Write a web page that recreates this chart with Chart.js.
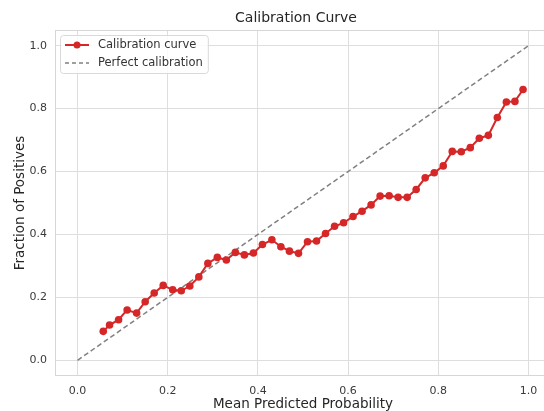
<!DOCTYPE html>
<html lang="en">
<head>
<meta charset="UTF-8">
<title>Calibration Curve</title>
<script src="https://cdn.jsdelivr.net/npm/chart.js"></script>
<style>
  html, body { margin: 0; padding: 0; overflow: hidden; background: #fff; }
  canvas { display: block; }
</style>
</head>
<body>
<canvas id="myChart" width="556" height="414"></canvas>
<script>
// mean predicted probability per bin (x) and fraction of positives (y)
const meanPredicted = [
  0.057, 0.071, 0.091, 0.110, 0.131, 0.150, 0.170, 0.190, 0.211, 0.230,
  0.249, 0.269, 0.289, 0.310, 0.330, 0.350, 0.370, 0.390, 0.410, 0.431,
  0.451, 0.470, 0.490, 0.510, 0.530, 0.550, 0.570, 0.590, 0.611, 0.631,
  0.651, 0.671, 0.691, 0.711, 0.731, 0.751, 0.771, 0.791, 0.811, 0.831,
  0.851, 0.871, 0.891, 0.911, 0.931, 0.951, 0.970, 0.988
];
const fractionPositives = [
  0.092, 0.112, 0.129, 0.160, 0.150, 0.186, 0.214, 0.238, 0.224, 0.221,
  0.236, 0.265, 0.308, 0.327, 0.319, 0.343, 0.335, 0.341, 0.368, 0.383,
  0.361, 0.347, 0.340, 0.377, 0.379, 0.403, 0.426, 0.437, 0.457, 0.474,
  0.494, 0.522, 0.523, 0.518, 0.518, 0.543, 0.580, 0.596, 0.618, 0.664,
  0.663, 0.676, 0.706, 0.715, 0.772, 0.821, 0.823, 0.861
];
const perfectX = [0, 1];
const perfectY = [0, 1];
const axisTicks = [0, 0.2, 0.4, 0.6, 0.8, 1.0];
const chartTitle = 'Calibration Curve';

const RED = '#d62728';
const GREY_DASH = '#808080';
const FONT = "'DejaVu Sans', sans-serif";

const curvePoints = meanPredicted.map((x, i) => ({ x: x, y: fractionPositives[i] }));
const perfectPoints = perfectX.map((x, i) => ({ x: x, y: perfectY[i] }));

// frame, title (centred over the axes like matplotlib) and legend box
const framePlugin = {
  id: 'frame',
  beforeDatasetsDraw(chart) {
    const a = chart.chartArea, ctx = chart.ctx;
    ctx.save();
    ctx.strokeStyle = '#d6d6d6';
    ctx.lineWidth = 1;
    ctx.strokeRect(a.left + 0.5, a.top + 0.5, a.right - a.left - 1, a.bottom - a.top - 1);
    ctx.restore();
  },
  afterDatasetsDraw(chart) {
    const a = chart.chartArea, ctx = chart.ctx;
    const labels = chart.data.datasets.map(d => d.label);
    ctx.save();

    ctx.font = '14px ' + FONT;
    ctx.fillStyle = '#262626';
    ctx.textAlign = 'center';
    ctx.textBaseline = 'middle';
    ctx.fillText(chartTitle, a.left + 241, 18.5);
    ctx.textAlign = 'left';

    ctx.font = '11.5px ' + FONT;
    const w = Math.max(...labels.map(l => ctx.measureText(l).width));
    const x0 = a.left + 5, y0 = a.top + 5;
    const bw = 38 + w + 5, bh = 38;
    ctx.fillStyle = 'rgba(255,255,255,0.85)';
    ctx.strokeStyle = '#d9d9d9';
    ctx.lineWidth = 1;
    ctx.beginPath();
    ctx.roundRect(x0 + 0.5, y0 + 0.5, bw, bh, 3);
    ctx.fill();
    ctx.stroke();

    // entry 1: red line with marker
    let cy = y0 + 10;
    ctx.strokeStyle = RED;
    ctx.lineWidth = 2;
    ctx.beginPath();
    ctx.moveTo(x0 + 5, cy); ctx.lineTo(x0 + 29, cy);
    ctx.stroke();
    ctx.fillStyle = RED;
    ctx.beginPath();
    ctx.arc(x0 + 17, cy, 3.5, 0, Math.PI * 2);
    ctx.fill();
    ctx.fillStyle = '#333';
    ctx.fillText(labels[0], x0 + 38, cy + 0.5);

    // entry 2: grey dashed line
    cy = y0 + 28;
    ctx.strokeStyle = GREY_DASH;
    ctx.lineWidth = 1.5;
    ctx.setLineDash([4, 3]);
    ctx.beginPath();
    ctx.moveTo(x0 + 5, cy); ctx.lineTo(x0 + 29, cy);
    ctx.stroke();
    ctx.setLineDash([]);
    ctx.fillText(labels[1], x0 + 38, cy + 0.5);
    ctx.restore();
  }
};

const config = {
  type: 'line',
  data: {
    datasets: [{
      label: 'Calibration curve',
      data: curvePoints,
      borderColor: RED,
      backgroundColor: RED,
      borderWidth: 2,
      pointRadius: 3.8,
      pointBorderWidth: 0,
      pointBackgroundColor: RED,
      tension: 0,
      order: 1
    }, {
      label: 'Perfect calibration',
      data: perfectPoints,
      borderColor: GREY_DASH,
      borderWidth: 1.5,
      borderDash: [5, 3],
      pointRadius: 0,
      tension: 0,
      order: 2
    }]
  },
  options: {
    responsive: false,
    animation: false,
    layout: { padding: { top: 30, right: 5 } },
    plugins: {
      legend: { display: false },
      tooltip: { enabled: false },
      title: { display: false }
    },
    scales: {
      x: {
        type: 'linear',
        min: -0.05,
        max: 1.05,
        afterFit: s => { s.height = 38; },
        afterBuildTicks: s => { s.ticks = axisTicks.map(v => ({ value: v })); },
        ticks: {
          color: '#3a3a3a',
          font: { family: FONT, size: 11 },
          padding: 9,
          callback: v => v.toFixed(1)
        },
        grid: { color: '#dedede', drawTicks: false },
        border: { display: false },
        title: {
          display: true,
          text: 'Mean Predicted Probability',
          color: '#262626',
          font: { family: FONT, size: 13.5 },
          padding: { top: 0, bottom: 1 }
        }
      },
      y: {
        type: 'linear',
        min: -0.05,
        max: 1.05,
        afterFit: s => { s.width = 55; },
        afterBuildTicks: s => { s.ticks = axisTicks.map(v => ({ value: v })); },
        ticks: {
          color: '#3a3a3a',
          font: { family: FONT, size: 11 },
          padding: 8,
          callback: v => v.toFixed(1)
        },
        grid: { color: '#dedede', drawTicks: false },
        border: { display: false },
        title: {
          display: true,
          text: 'Fraction of Positives',
          color: '#262626',
          font: { family: FONT, size: 13.5 },
          padding: { top: 12, bottom: 0 }
        }
      }
    }
  },
  plugins: [framePlugin]
};

const myChart = new Chart(document.querySelector('#myChart'), config);
</script>
</body>
</html>
